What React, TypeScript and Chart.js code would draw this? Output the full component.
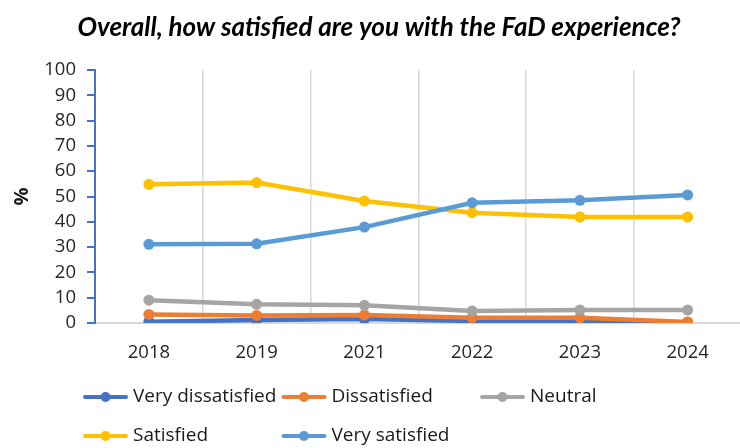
import { useEffect, useRef } from 'react';
import { Chart, registerables } from 'chart.js';

Chart.register(...registerables);

const years = ['2018', '2019', '2021', '2022', '2023', '2024'];
const seriesNames = ['Very dissatisfied', 'Dissatisfied', 'Neutral', 'Satisfied', 'Very satisfied'];
const seriesColors = ['#4472C4', '#ED7D31', '#A5A5A5', '#FFC000', '#5B9BD5'];
const veryDissatisfied = [0.5, 1.2, 1.6, 0.8, 0.8, 0.3];
const dissatisfied = [3.4, 3.0, 3.2, 2.1, 2.1, 0.4];
const neutral = [9.0, 7.4, 7.0, 4.7, 5.1, 5.1];
const satisfied = [54.8, 55.5, 48.2, 43.6, 41.9, 41.9];
const verySatisfied = [31.1, 31.3, 37.9, 47.5, 48.5, 50.6];
const yMin = 0;
const yMax = 100;
const yStep = 10;
const titleText = 'Overall, how satisfied are you with the FaD experience?';
const yTitle = '%';

const seriesValues = [veryDissatisfied, dissatisfied, neutral, satisfied, verySatisfied];

const FONT = '"Open Sans", "Noto Sans", sans-serif';

const titlePlugin = {
  id: 'customTitle',
  afterDraw(chart: any) {
    const ctx = chart.ctx;
    ctx.save();
    ctx.font = 'italic bold 26px Lato, "Open Sans", sans-serif';
    ctx.fillStyle = '#000000';
    ctx.textAlign = 'center';
    ctx.textBaseline = 'middle';
    ctx.fillText(titleText, 379, 28);
    ctx.restore();
  },
};

const legendPlugin = {
  id: 'customLegend',
  afterDraw(chart: any) {
    const ctx = chart.ctx;
    ctx.save();
    chart.data.datasets.forEach((ds: any, i: number) => {
      const col = i % 3;
      const row = Math.floor(i / 3);
      const x0 = 83 + col * 198.5;
      const y = 397 + row * 39;
      ctx.strokeStyle = ds.borderColor;
      ctx.lineWidth = 4;
      ctx.lineCap = 'round';
      ctx.beginPath();
      ctx.moveTo(x0 + 2, y);
      ctx.lineTo(x0 + 43, y);
      ctx.stroke();
      ctx.fillStyle = ds.backgroundColor;
      ctx.beginPath();
      ctx.arc(x0 + 22.5, y, 5, 0, Math.PI * 2);
      ctx.fill();
      ctx.fillStyle = '#1a1a1a';
      ctx.font = `19px ${FONT}`;
      ctx.textAlign = 'left';
      ctx.textBaseline = 'middle';
      ctx.fillText(ds.label, x0 + 50, y);
    });
    ctx.restore();
  },
};

export default function App() {
  const ref = useRef<HTMLCanvasElement | null>(null);

  useEffect(() => {
    if (!ref.current) return;
    const chart = new Chart(ref.current, {
      type: 'line',
      data: {
        labels: years,
        datasets: seriesNames.map((name, i) => ({
          label: name,
          data: seriesValues[i],
          borderColor: seriesColors[i],
          backgroundColor: seriesColors[i],
          pointBackgroundColor: seriesColors[i],
          pointBorderColor: seriesColors[i],
          borderWidth: 4.5,
          pointRadius: 5.5,
          pointBorderWidth: 0,
          tension: 0,
          order: seriesNames.length - i,
        })),
      },
      options: {
        responsive: false,
        animation: false,
        devicePixelRatio: 1,
        layout: { padding: { top: 70, left: 0, right: 0, bottom: 0 } },
        plugins: {
          legend: { display: false },
          title: { display: false },
          tooltip: { enabled: false },
        },
        scales: {
          x: {
            type: 'category',
            offset: true,
            grid: {
              offset: true,
              color: '#d9d9d9',
              lineWidth: 1.5,
              drawTicks: false,
            },
            border: { color: '#d9d9d9', width: 2 },
            ticks: {
              color: '#262626',
              font: { family: FONT, size: 18.5 },
              padding: 19,
              maxRotation: 0,
            },
            afterFit(scale: any) {
              scale.height = 125;
            },
          },
          y: {
            type: 'linear',
            min: yMin,
            max: yMax,
            ticks: {
              stepSize: yStep,
              color: '#262626',
              font: { family: FONT, size: 18.5 },
              padding: 11,
            },
            grid: {
              drawOnChartArea: false,
              color: '#4472C4',
              lineWidth: 2,
              tickLength: 8,
            },
            border: { color: '#4472C4', width: 2 },
            title: {
              display: true,
              text: yTitle,
              color: '#1a1a1a',
              font: { family: FONT, size: 20, weight: 'bold' },
              padding: { top: 10, bottom: 0 },
            },
            afterFit(scale: any) {
              scale.width = 95;
            },
          },
        },
      },
      plugins: [titlePlugin, legendPlugin],
    });
    return () => chart.destroy();
  }, []);

  return (
    <div style={{ position: 'fixed', left: 0, top: 0, width: 740, height: 448, overflow: 'hidden', background: '#ffffff' }}>
      <canvas ref={ref} width={747} height={448} style={{ display: 'block' }} />
    </div>
  );
}
